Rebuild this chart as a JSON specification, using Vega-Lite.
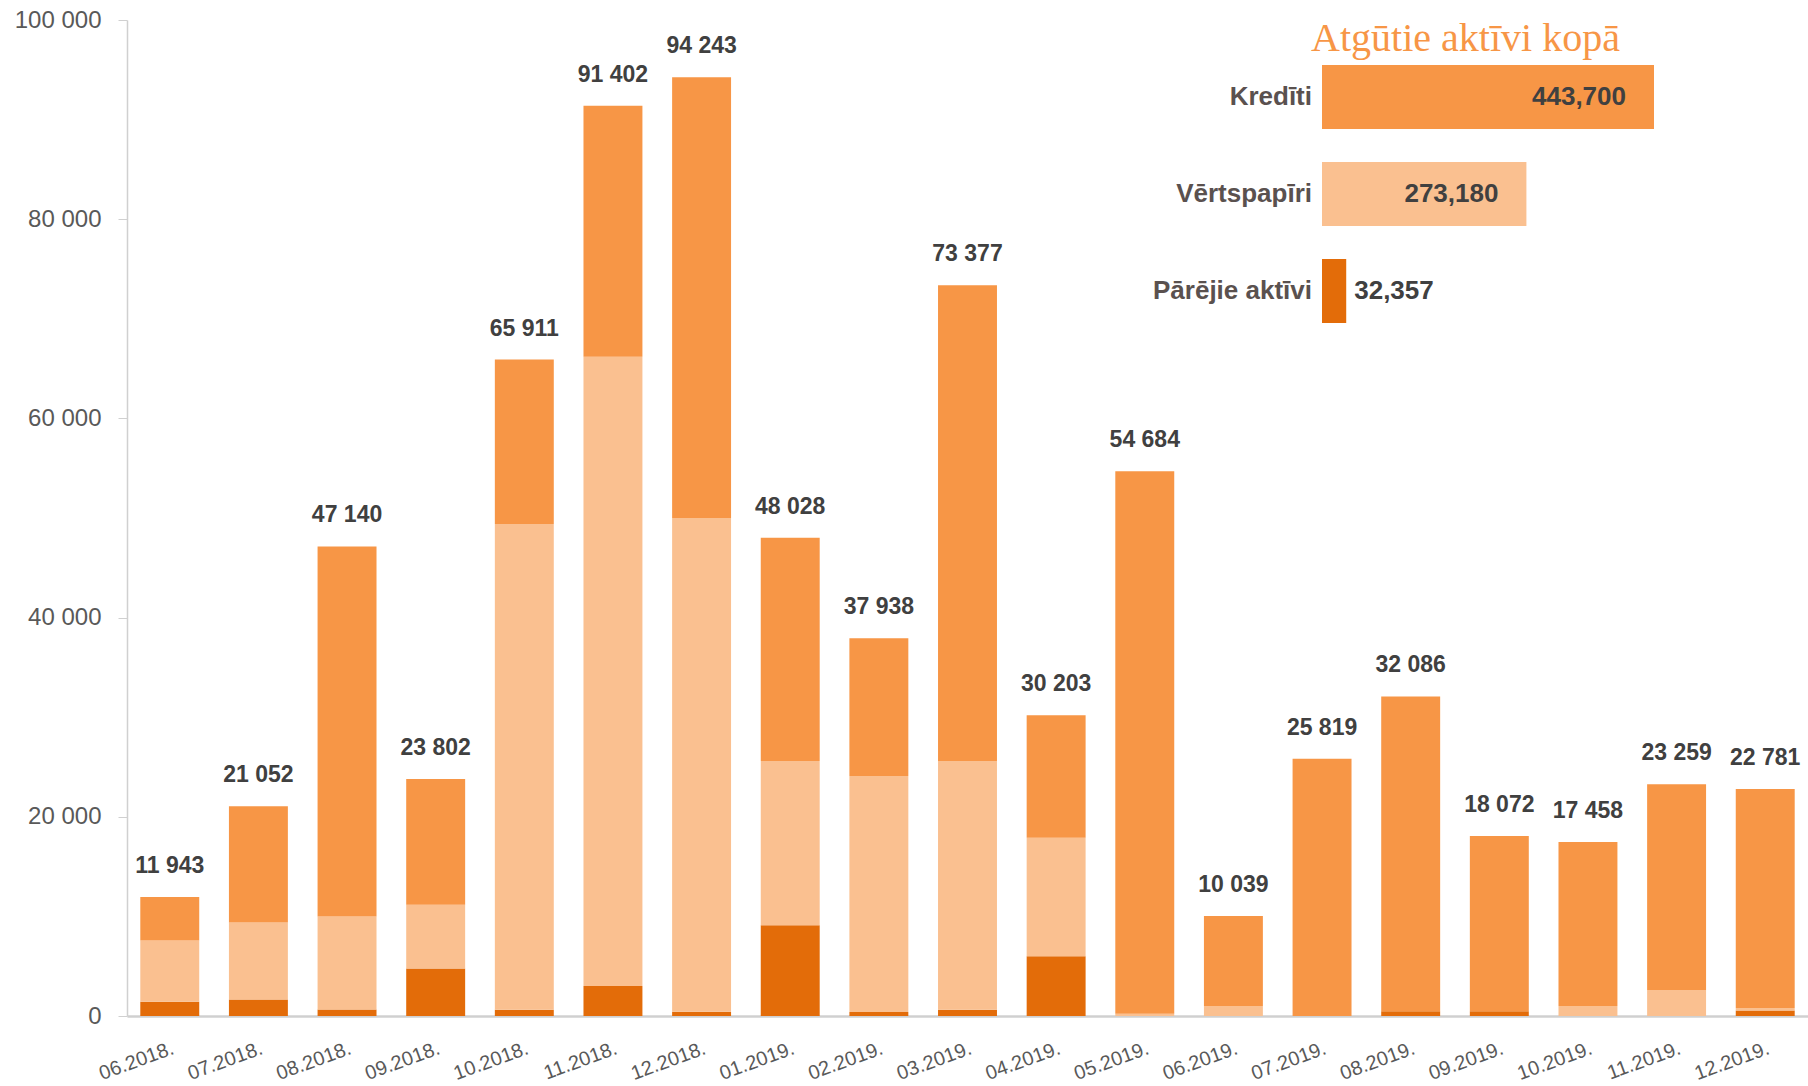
{
  "$schema": "https://vega.github.io/schema/vega-lite/v6.json",
  "width": 1681,
  "height": 996,
  "autosize": {"type": "none"},
  "padding": {"left": 127, "top": 20, "right": 0, "bottom": 70},
  "background": "white",
  "config": {"view": {"stroke": null}, "font": "Liberation Sans"},
  "title": {
    "text": "Atgūtie aktīvi kopā",
    "font": "Liberation Serif",
    "fontSize": 40,
    "fontWeight": "normal",
    "color": "#F79646",
    "anchor": "middle",
    "frame": "group",
    "dx": 498,
    "dy": 83,
    "baseline": "alphabetic",
    "offset": 0
  },
  "datasets": {
    "monthly": [
      {"month": "06.2018.", "kred": 4363, "vert": 6160, "par": 1420, "total": 11943},
      {"month": "07.2018.", "kred": 11662, "vert": 7730, "par": 1660, "total": 21052},
      {"month": "08.2018.", "kred": 37150, "vert": 9340, "par": 650, "total": 47140},
      {"month": "09.2018.", "kred": 12642, "vert": 6390, "par": 4770, "total": 23802},
      {"month": "10.2018.", "kred": 16511, "vert": 48770, "par": 630, "total": 65911},
      {"month": "11.2018.", "kred": 25202, "vert": 63200, "par": 3000, "total": 91402},
      {"month": "12.2018.", "kred": 44243, "vert": 49570, "par": 430, "total": 94243},
      {"month": "01.2019.", "kred": 22428, "vert": 16500, "par": 9100, "total": 48028},
      {"month": "02.2019.", "kred": 13838, "vert": 23700, "par": 400, "total": 37938},
      {"month": "03.2019.", "kred": 47777, "vert": 24970, "par": 630, "total": 73377},
      {"month": "04.2019.", "kred": 12303, "vert": 11900, "par": 6000, "total": 30203},
      {"month": "05.2019.", "kred": 54454, "vert": 230, "par": 0, "total": 54684},
      {"month": "06.2019.", "kred": 9039, "vert": 1000, "par": 0, "total": 10039},
      {"month": "07.2019.", "kred": 25819, "vert": 0, "par": 0, "total": 25819},
      {"month": "08.2019.", "kred": 31616, "vert": 0, "par": 470, "total": 32086},
      {"month": "09.2019.", "kred": 17602, "vert": 0, "par": 470, "total": 18072},
      {"month": "10.2019.", "kred": 16458, "vert": 1000, "par": 0, "total": 17458},
      {"month": "11.2019.", "kred": 20659, "vert": 2600, "par": 0, "total": 23259},
      {"month": "12.2019.", "kred": 21981, "vert": 260, "par": 540, "total": 22781}
    ],
    "totals": [
      {"key": "kred", "cat": "Kredīti", "v": 443700},
      {"key": "vert", "cat": "Vērtspapīri", "v": 273180},
      {"key": "par", "cat": "Pārējie aktīvi", "v": 32357}
    ]
  },
  "layer": [
    {
      "data": {"name": "monthly"},
      "layer": [
        {
          "transform": [
            {"fold": ["par", "vert", "kred"], "as": ["key", "value"]},
            {"calculate": "indexof(['par','vert','kred'], datum.key)", "as": "ord"}
          ],
          "mark": {"type": "bar"},
          "encoding": {
            "x": {
              "field": "month", "type": "nominal", "sort": null,
              "scale": {"paddingInner": 0.335, "paddingOuter": 0.15},
              "axis": {
                "title": null, "labelAngle": -20, "labelAlign": "right", "labelBaseline": "top",
                "ticks": false, "labelPadding": 22, "labelFontSize": 20, "labelColor": "#595959",
                "labelFont": "Liberation Sans", "domainColor": "#d0d0d0", "domainWidth": 2.5
              }
            },
            "y": {
              "field": "value", "type": "quantitative", "stack": "zero",
              "scale": {"domain": [0, 100000], "nice": false},
              "axis": {
                "values": [0, 20000, 40000, 60000, 80000, 100000],
                "labelExpr": "replace(format(datum.value, ','), ',', ' ')",
                "title": null, "grid": false, "domainColor": "#d0d0d0", "domainWidth": 1.5,
                "tickColor": "#d0d0d0", "tickSize": 9, "labelPadding": 17, "labelFontSize": 24,
                "labelColor": "#595959", "labelFont": "Liberation Sans"
              }
            },
            "color": {
              "field": "key", "type": "nominal",
              "scale": {"domain": ["kred", "vert", "par"], "range": ["#F79646", "#FAC090", "#E36C09"]},
              "legend": null
            },
            "order": {"field": "ord", "type": "quantitative", "sort": "ascending"}
          }
        },
        {
          "transform": [
            {"calculate": "replace(format(datum.total, ','), ',', ' ')", "as": "lbl"}
          ],
          "mark": {"type": "text", "fontWeight": "bold", "fontSize": 23, "color": "#404040", "baseline": "alphabetic", "dy": -24, "font": "Liberation Sans"},
          "encoding": {
            "x": {"field": "month", "type": "nominal", "sort": null},
            "y": {"field": "total", "type": "quantitative"},
            "text": {"field": "lbl"}
          }
        }
      ]
    },
    {
      "data": {"name": "totals"},
      "layer": [
        {
          "mark": {"type": "bar"},
          "encoding": {
            "y": {
              "field": "cat", "type": "nominal", "sort": null,
              "scale": {"range": [28.5, 319.5], "paddingInner": 0.34, "paddingOuter": 0.17},
              "axis": null
            },
            "x": {
              "field": "v", "type": "quantitative",
              "scale": {"domain": [0, 443700], "range": [1195, 1527], "nice": false, "zero": true},
              "axis": null
            },
            "color": {
              "field": "key", "type": "nominal",
              "scale": {"domain": ["kred", "vert", "par"], "range": ["#F79646", "#FAC090", "#E36C09"]},
              "legend": null
            }
          }
        },
        {
          "transform": [{"filter": "datum.v > 100000"}],
          "mark": {"type": "text", "align": "right", "baseline": "middle", "dx": -28, "fontWeight": "bold", "fontSize": 26, "color": "#404040", "font": "Liberation Sans"},
          "encoding": {
            "y": {"field": "cat", "type": "nominal", "sort": null},
            "x": {"field": "v", "type": "quantitative"},
            "text": {"field": "v", "type": "quantitative", "format": ","}
          }
        },
        {
          "transform": [{"filter": "datum.v <= 100000"}],
          "mark": {"type": "text", "align": "left", "baseline": "middle", "dx": 8, "fontWeight": "bold", "fontSize": 26, "color": "#404040", "font": "Liberation Sans"},
          "encoding": {
            "y": {"field": "cat", "type": "nominal", "sort": null},
            "x": {"field": "v", "type": "quantitative"},
            "text": {"field": "v", "type": "quantitative", "format": ","}
          }
        },
        {
          "mark": {"type": "text", "align": "right", "baseline": "middle", "dx": -10, "fontWeight": "bold", "fontSize": 26, "color": "#5a514f", "font": "Liberation Sans"},
          "encoding": {
            "y": {"field": "cat", "type": "nominal", "sort": null},
            "x": {"datum": 0, "type": "quantitative"},
            "text": {"field": "cat"}
          }
        }
      ]
    }
  ],
  "resolve": {"scale": {"x": "independent", "y": "independent"}}
}
